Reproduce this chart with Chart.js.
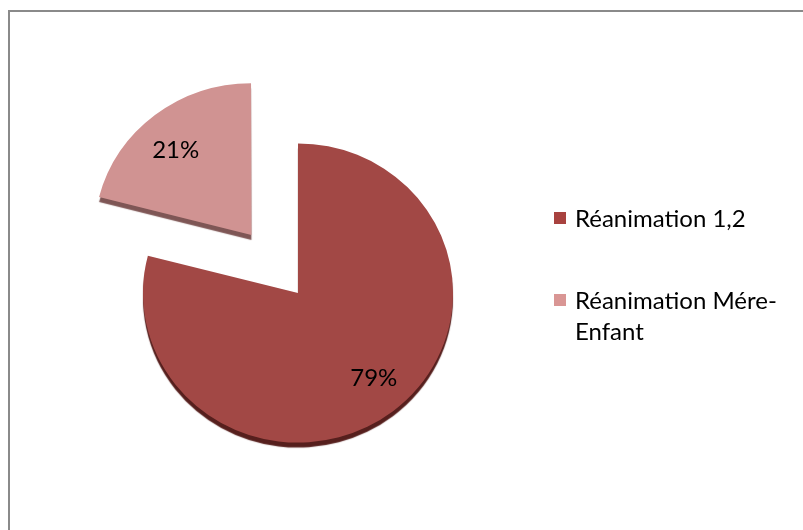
<!DOCTYPE html>
<html>
<head>
<meta charset="utf-8">
<script src="https://cdn.jsdelivr.net/npm/chart.js@4"></script>
<style>
    html, body { margin: 0; padding: 0; background: #fff; overflow: hidden; }
    #wrap { position: relative; width: 803px; height: 530px; overflow: hidden; }
    #frame { position: absolute; left: 8px; top: 10px; width: 900px; height: 600px; border: 2px solid #8a8a8a; }
    #pie { position: absolute; left: 0; top: 0; }
    #legend { position: absolute; left: 554px; top: 0; font-family: Lato, "Open Sans", sans-serif; font-size: 24px; color: #000; }
    .item { position: absolute; left: 0; display: flex; align-items: flex-start; line-height: 31px; }
    .box { width: 12px; height: 12px; margin-top: 10px; margin-right: 9px; flex: none; }
    .txt { width: 222px; }
</style>
</head>
<body>
<div id="wrap">
    <div id="frame"></div>
    <canvas id="pie" width="803" height="530"></canvas>
    <div id="legend"></div>
</div>
<script>
// données
const categories = ['Réanimation 1,2', 'Réanimation Mére-Enfant'];
const percentages = [79, 21];

// couleurs
const sliceColors = ['#A24845', '#D09392'];
const edgeColors = ['#561f1d', '#7E5655'];
const legendColors = ['#A8423F', '#D99694'];

const TILT = 0.965; // léger effet 3D (ellipse)

// dessine les parts avec un bord sombre en dessous
const pie3d = {
    id: 'pie3d',
    beforeDatasetsDraw(chart) {
        const ctx = chart.ctx;
        const arcs = chart.getDatasetMeta(0).data;
        const cx = arcs[0].x, cy = arcs[0].y;
        arcs.forEach((arc, i) => {
            ctx.save();
            ctx.translate(cx, cy);
            ctx.scale(1, TILT);
            ctx.translate(-cx, -cy);
            ctx.shadowColor = edgeColors[i];
            ctx.shadowOffsetY = 5;
            ctx.shadowBlur = 1;
            arc.draw(ctx);
            ctx.restore();
        });
        return false;
    }
};

// étiquettes de pourcentage
const sliceLabels = {
    id: 'sliceLabels',
    afterDraw(chart) {
        const ctx = chart.ctx;
        const arcs = chart.getDatasetMeta(0).data;
        ctx.save();
        ctx.font = '24px Lato, "Open Sans", sans-serif';
        ctx.fillStyle = '#000';
        ctx.textAlign = 'center';
        ctx.textBaseline = 'middle';
        arcs.forEach((arc, i) => {
            const mid = (arc.startAngle + arc.endAngle) / 2;
            const push = (arc.options.offset || 0) / 4;
            const cx = arc.x + Math.cos(mid) * push;
            const cy = arc.y + Math.sin(mid) * push * TILT;
            const a = mid - 0.05;
            const r = arc.outerRadius * 0.75;
            ctx.fillText(percentages[i] + '%', cx + Math.cos(a) * r, cy + Math.sin(a) * r * TILT);
        });
        ctx.restore();
    }
};

const chart = new Chart(document.getElementById('pie'), {
    type: 'pie',
    data: {
        labels: categories,
        datasets: [{
            data: percentages,
            backgroundColor: sliceColors,
            borderWidth: 0,
            offset: [0, 304]
        }]
    },
    options: {
        responsive: false,
        animation: false,
        radius: 155,
        layout: {
            padding: { left: 0, right: 207, top: 56, bottom: 0 }
        },
        plugins: {
            legend: { display: false },
            tooltip: { enabled: false }
        }
    },
    plugins: [pie3d, sliceLabels]
});

// légende HTML
const legendTops = [202, 284];
const legend = document.getElementById('legend');
categories.forEach((name, i) => {
    const item = document.createElement('div');
    item.className = 'item';
    item.style.top = legendTops[i] + 'px';
    const box = document.createElement('span');
    box.className = 'box';
    box.style.background = legendColors[i];
    const txt = document.createElement('span');
    txt.className = 'txt';
    txt.textContent = name;
    item.appendChild(box);
    item.appendChild(txt);
    legend.appendChild(item);
});
</script>
</body>
</html>
